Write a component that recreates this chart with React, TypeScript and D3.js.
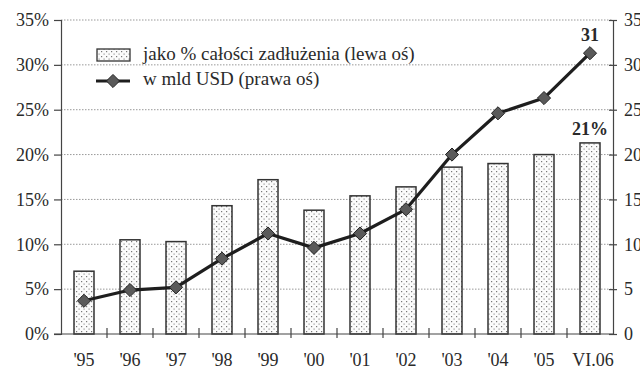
import { useEffect, useRef } from "react";
import * as d3 from "d3";

// values
const categories = ["'95", "'96", "'97", "'98", "'99", "'00", "'01", "'02", "'03", "'04", "'05", "VI.06"];
const sharePct = [7.0, 10.5, 10.3, 14.3, 17.2, 13.8, 15.4, 16.4, 18.6, 19.0, 20.0, 21.3];
const bnUsd = [3.7, 4.9, 5.2, 8.4, 11.2, 9.6, 11.2, 13.9, 20.0, 24.6, 26.3, 31.3];
const leftTicks = [0, 5, 10, 15, 20, 25, 30, 35];
const rightTicks = [0, 5, 10, 15, 20, 25, 30, 35];
const legendLabels = ["jako % całości zadłużenia (lewa oś)", "w mld USD (prawa oś)"];

const Chart = () => {
    const ref = useRef<SVGSVGElement | null>(null);

    useEffect(() => {
        if (!ref.current) return;
        const svg = d3.select(ref.current);
        svg.selectAll("*").remove();

        const width = 640;
        const height = 370;
        const left = 61, right = 613, top = 20, bottom = 334;
        const font = "Liberation Serif, serif";
        const ink = "#2a2a2a";

        const x = d3.scaleBand().domain(categories).range([left, right]).padding(0);
        const yL = d3.scaleLinear().domain([0, 35]).range([bottom, top]);
        const yR = d3.scaleLinear().domain([0, 35]).range([bottom, top]);
        const barW = 20;
        const cx = (c: string) => (x(c) as number) + x.bandwidth() / 2;

        svg.attr("width", width).attr("height", height).style("font-family", font);

        // dotted fill pattern
        const pat = svg.append("defs").append("pattern")
            .attr("id", "dots")
            .attr("patternUnits", "userSpaceOnUse")
            .attr("width", 5).attr("height", 5);
        pat.append("rect").attr("width", 5).attr("height", 5).attr("fill", "#fbfbfb");
        pat.append("rect").attr("x", 1).attr("y", 1).attr("width", 1.2).attr("height", 1.2).attr("fill", "#777");
        pat.append("rect").attr("x", 3.5).attr("y", 3.5).attr("width", 1.2).attr("height", 1.2).attr("fill", "#999");

        // gridlines
        svg.append("g")
            .selectAll("line")
            .data(leftTicks.filter(t => t > 0))
            .enter().append("line")
            .attr("x1", left).attr("x2", right)
            .attr("y1", d => yL(d)).attr("y2", d => yL(d))
            .attr("stroke", "#999").attr("stroke-width", 1)
            .attr("stroke-dasharray", "1.5,1.5");

        // bars
        svg.append("g")
            .selectAll("rect")
            .data(sharePct)
            .enter().append("rect")
            .attr("x", (_, i) => cx(categories[i]) - barW / 2)
            .attr("y", d => yL(d))
            .attr("width", barW)
            .attr("height", d => bottom - yL(d))
            .attr("fill", "url(#dots)")
            .attr("stroke", "#333")
            .attr("stroke-width", 1.5);

        // left axis
        const gl = svg.append("g").attr("transform", `translate(${left},0)`)
            .call(d3.axisLeft(yL).tickValues(leftTicks).tickSize(7).tickFormat(d => `${d}%`));
        gl.attr("font-family", null);
        gl.select(".domain").attr("stroke", "#444").attr("stroke-width", 1.2);
        gl.selectAll(".tick line").attr("stroke", "#444").attr("stroke-width", 1.2);
        gl.selectAll("text").style("font-family", font).attr("font-size", 18).attr("fill", ink).attr("dx", "-2");

        // right axis
        const gr = svg.append("g").attr("transform", `translate(${right},0)`)
            .call(d3.axisRight(yR).tickValues(rightTicks).tickSizeInner(4).tickSizeOuter(0).tickFormat(d => `${d}`));
        gr.attr("font-family", null);
        gr.select(".domain").attr("stroke", "#444").attr("stroke-width", 1.2);
        gr.selectAll(".tick line").attr("x1", -4).attr("stroke", "#444").attr("stroke-width", 1.2);
        gr.selectAll("text").style("font-family", font).attr("font-size", 18).attr("fill", ink).attr("x", 11);

        // bottom axis
        const gb = svg.append("g").attr("transform", `translate(0,${bottom})`);
        gb.append("line").attr("x1", left - 7).attr("x2", right).attr("stroke", "#444").attr("stroke-width", 1.2);
        gb.selectAll(".bt")
            .data(categories.slice(1))
            .enter().append("line")
            .attr("x1", d => x(d) as number).attr("x2", d => x(d) as number)
            .attr("y1", -6).attr("y2", 4)
            .attr("stroke", "#444").attr("stroke-width", 1.2);
        gb.selectAll("text")
            .data(categories)
            .enter().append("text")
            .attr("x", d => cx(d) + (d === "VI.06" ? 3 : 0))
            .attr("y", 32)
            .attr("text-anchor", "middle")
            .style("font-family", font).attr("font-size", 18).attr("fill", ink)
            .text(d => d);

        // line series
        const line = d3.line<number>()
            .x((_, i) => cx(categories[i]))
            .y(d => yR(d));
        svg.append("path")
            .datum(bnUsd)
            .attr("d", line)
            .attr("fill", "none")
            .attr("stroke", "#1e1e1e")
            .attr("stroke-width", 3.2)
            .attr("stroke-linejoin", "round");

        const diamond = d3.symbol().type(d3.symbolDiamond2).size(110);
        svg.append("g")
            .selectAll("path")
            .data(bnUsd)
            .enter().append("path")
            .attr("d", diamond)
            .attr("transform", (d, i) => `translate(${cx(categories[i])},${yR(d)})`)
            .attr("fill", "#5a5a5a")
            .attr("stroke", "#222")
            .attr("stroke-width", 1);

        // value labels
        const last = categories.length - 1;
        svg.append("text")
            .attr("x", cx(categories[last])).attr("y", yR(bnUsd[last]) - 12)
            .attr("text-anchor", "middle")
            .style("font-family", font).attr("font-size", 18).attr("font-weight", "bold").attr("fill", ink)
            .text("31");
        svg.append("text")
            .attr("x", cx(categories[last])).attr("y", yL(sharePct[last]) - 8)
            .attr("text-anchor", "middle")
            .style("font-family", font).attr("font-size", 18).attr("font-weight", "bold").attr("fill", ink)
            .text("21%");

        // legend
        const lg = svg.append("g");
        lg.append("rect").attr("x", 97).attr("y", 49).attr("width", 33).attr("height", 12)
            .attr("fill", "url(#dots)").attr("stroke", "#333").attr("stroke-width", 1.3);
        lg.append("line").attr("x1", 96).attr("x2", 130).attr("y1", 81).attr("y2", 81)
            .attr("stroke", "#1e1e1e").attr("stroke-width", 3.2);
        lg.append("path").attr("d", diamond).attr("transform", "translate(113,81)")
            .attr("fill", "#5a5a5a").attr("stroke", "#222");
        lg.selectAll("text")
            .data(legendLabels)
            .enter().append("text")
            .attr("x", 143).attr("y", (_, i) => 60 + i * 25)
            .style("font-family", font).attr("font-size", 19).attr("fill", ink)
            .text(d => d);
    }, []);

    return <svg ref={ref} style={{ position: "absolute", left: 0, top: 0, background: "#fff" }}></svg>;
};

export default function App() {
    return <Chart />;
}
